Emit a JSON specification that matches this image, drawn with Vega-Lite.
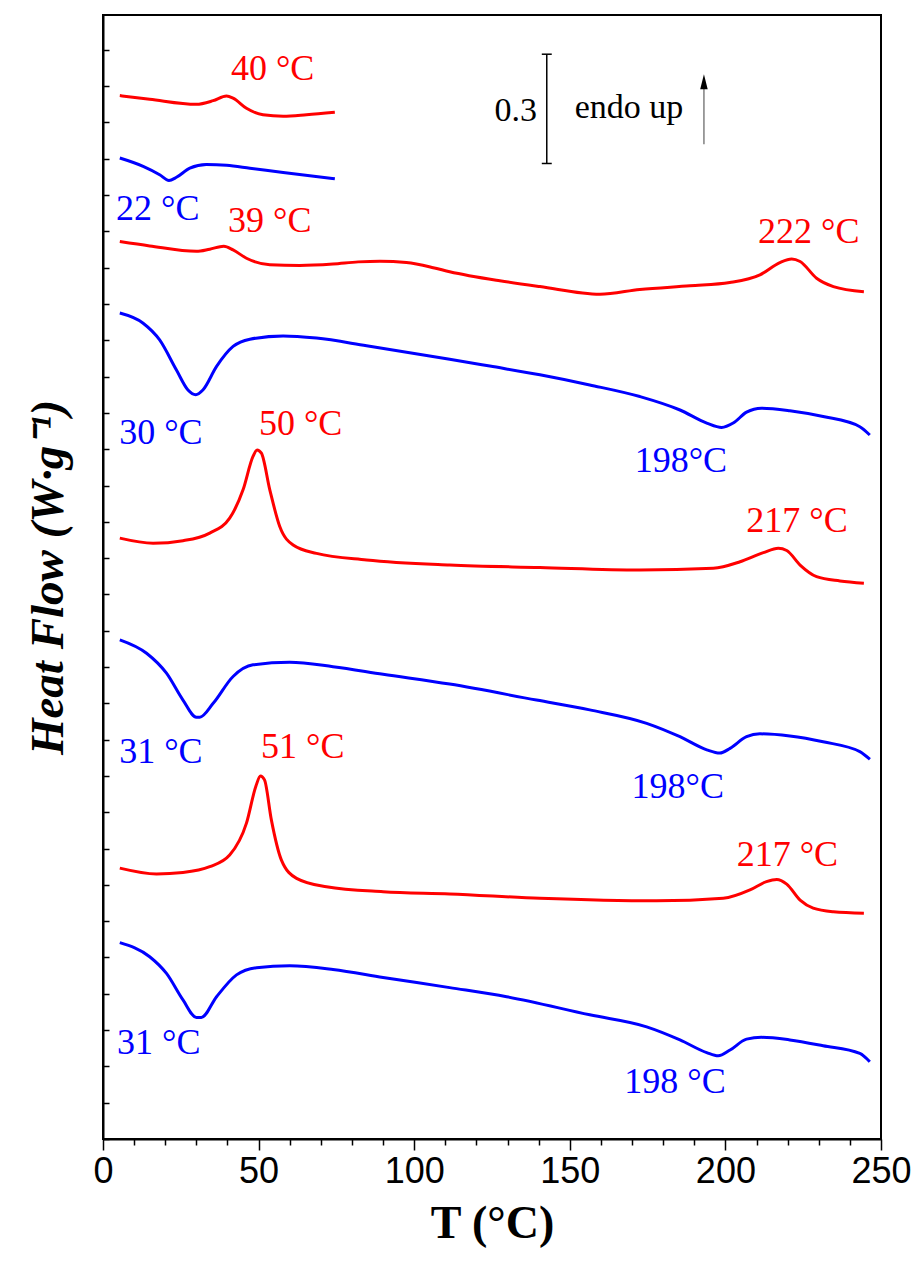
{
  "$schema": "https://vega.github.io/schema/vega-lite/v6.json",
  "width": 778,
  "height": 1124,
  "autosize": {"type": "none"},
  "padding": {"left": 103, "top": 15, "right": 36, "bottom": 124},
  "background": "white",
  "config": {
    "view": {"stroke": "black", "strokeWidth": 2},
    "axis": {"grid": false, "domainColor": "black", "tickColor": "black", "labelColor": "black", "titleColor": "black"}
  },
  "datasets": {
    "curves": [
      {"run": "a", "type": "heating", "T": 5.4, "HF": 2.874},
      {"run": "a", "type": "heating", "T": 15.0, "HF": 2.864},
      {"run": "a", "type": "heating", "T": 30.0, "HF": 2.850},
      {"run": "a", "type": "heating", "T": 35.4, "HF": 2.860},
      {"run": "a", "type": "heating", "T": 39.7, "HF": 2.873},
      {"run": "a", "type": "heating", "T": 41.8, "HF": 2.867},
      {"run": "a", "type": "heating", "T": 46.1, "HF": 2.839},
      {"run": "a", "type": "heating", "T": 51.4, "HF": 2.821},
      {"run": "a", "type": "heating", "T": 57.9, "HF": 2.817},
      {"run": "a", "type": "heating", "T": 65.4, "HF": 2.821},
      {"run": "a", "type": "heating", "T": 74.5, "HF": 2.828},

      {"run": "b", "type": "cooling", "T": 5.4, "HF": 2.702},
      {"run": "b", "type": "cooling", "T": 12.9, "HF": 2.679},
      {"run": "b", "type": "cooling", "T": 18.2, "HF": 2.656},
      {"run": "b", "type": "cooling", "T": 21.2, "HF": 2.640},
      {"run": "b", "type": "cooling", "T": 23.6, "HF": 2.649},
      {"run": "b", "type": "cooling", "T": 27.9, "HF": 2.674},
      {"run": "b", "type": "cooling", "T": 33.2, "HF": 2.684},
      {"run": "b", "type": "cooling", "T": 39.7, "HF": 2.682},
      {"run": "b", "type": "cooling", "T": 47.2, "HF": 2.674},
      {"run": "b", "type": "cooling", "T": 57.9, "HF": 2.662},
      {"run": "b", "type": "cooling", "T": 74.5, "HF": 2.645},

      {"run": "c", "type": "heating", "T": 5.4, "HF": 2.472},
      {"run": "c", "type": "heating", "T": 15.0, "HF": 2.460},
      {"run": "c", "type": "heating", "T": 30.0, "HF": 2.445},
      {"run": "c", "type": "heating", "T": 34.3, "HF": 2.451},
      {"run": "c", "type": "heating", "T": 38.8, "HF": 2.459},
      {"run": "c", "type": "heating", "T": 41.8, "HF": 2.449},
      {"run": "c", "type": "heating", "T": 46.1, "HF": 2.426},
      {"run": "c", "type": "heating", "T": 53.6, "HF": 2.408},
      {"run": "c", "type": "heating", "T": 63.2, "HF": 2.406},
      {"run": "c", "type": "heating", "T": 73.9, "HF": 2.410},
      {"run": "c", "type": "heating", "T": 82.0, "HF": 2.416},
      {"run": "c", "type": "heating", "T": 89.0, "HF": 2.418},
      {"run": "c", "type": "heating", "T": 97.5, "HF": 2.414},
      {"run": "c", "type": "heating", "T": 106.1, "HF": 2.400},
      {"run": "c", "type": "heating", "T": 111.4, "HF": 2.389},
      {"run": "c", "type": "heating", "T": 127.5, "HF": 2.364},
      {"run": "c", "type": "heating", "T": 140.4, "HF": 2.348},
      {"run": "c", "type": "heating", "T": 159.7, "HF": 2.327},
      {"run": "c", "type": "heating", "T": 172.5, "HF": 2.340},
      {"run": "c", "type": "heating", "T": 188.6, "HF": 2.350},
      {"run": "c", "type": "heating", "T": 201.4, "HF": 2.359},
      {"run": "c", "type": "heating", "T": 211.1, "HF": 2.380},
      {"run": "c", "type": "heating", "T": 217.5, "HF": 2.414},
      {"run": "c", "type": "heating", "T": 221.3, "HF": 2.424},
      {"run": "c", "type": "heating", "T": 224.0, "HF": 2.417},
      {"run": "c", "type": "heating", "T": 229.3, "HF": 2.371},
      {"run": "c", "type": "heating", "T": 234.7, "HF": 2.348},
      {"run": "c", "type": "heating", "T": 244.5, "HF": 2.334},

      {"run": "d", "type": "cooling", "T": 5.4, "HF": 2.275},
      {"run": "d", "type": "cooling", "T": 12.9, "HF": 2.247},
      {"run": "d", "type": "cooling", "T": 18.2, "HF": 2.201},
      {"run": "d", "type": "cooling", "T": 23.6, "HF": 2.118},
      {"run": "d", "type": "cooling", "T": 27.3, "HF": 2.063},
      {"run": "d", "type": "cooling", "T": 29.8, "HF": 2.050},
      {"run": "d", "type": "cooling", "T": 32.1, "HF": 2.063},
      {"run": "d", "type": "cooling", "T": 36.5, "HF": 2.128},
      {"run": "d", "type": "cooling", "T": 41.8, "HF": 2.183},
      {"run": "d", "type": "cooling", "T": 47.2, "HF": 2.203},
      {"run": "d", "type": "cooling", "T": 57.9, "HF": 2.212},
      {"run": "d", "type": "cooling", "T": 68.6, "HF": 2.206},
      {"run": "d", "type": "cooling", "T": 84.7, "HF": 2.185},
      {"run": "d", "type": "cooling", "T": 111.4, "HF": 2.148},
      {"run": "d", "type": "cooling", "T": 124.3, "HF": 2.129},
      {"run": "d", "type": "cooling", "T": 140.4, "HF": 2.105},
      {"run": "d", "type": "cooling", "T": 156.4, "HF": 2.077},
      {"run": "d", "type": "cooling", "T": 172.5, "HF": 2.045},
      {"run": "d", "type": "cooling", "T": 185.4, "HF": 2.008},
      {"run": "d", "type": "cooling", "T": 194.0, "HF": 1.972},
      {"run": "d", "type": "cooling", "T": 198.8, "HF": 1.960},
      {"run": "d", "type": "cooling", "T": 202.5, "HF": 1.972},
      {"run": "d", "type": "cooling", "T": 206.8, "HF": 2.002},
      {"run": "d", "type": "cooling", "T": 211.6, "HF": 2.013},
      {"run": "d", "type": "cooling", "T": 220.7, "HF": 2.006},
      {"run": "d", "type": "cooling", "T": 231.4, "HF": 1.990},
      {"run": "d", "type": "cooling", "T": 243.2, "HF": 1.962},
      {"run": "d", "type": "cooling", "T": 246.4, "HF": 1.939},

      {"run": "e", "type": "heating", "T": 5.4, "HF": 1.655},
      {"run": "e", "type": "heating", "T": 16.1, "HF": 1.641},
      {"run": "e", "type": "heating", "T": 25.7, "HF": 1.648},
      {"run": "e", "type": "heating", "T": 34.3, "HF": 1.669},
      {"run": "e", "type": "heating", "T": 40.7, "HF": 1.710},
      {"run": "e", "type": "heating", "T": 45.0, "HF": 1.788},
      {"run": "e", "type": "heating", "T": 48.2, "HF": 1.880},
      {"run": "e", "type": "heating", "T": 49.5, "HF": 1.898},
      {"run": "e", "type": "heating", "T": 50.9, "HF": 1.889},
      {"run": "e", "type": "heating", "T": 53.6, "HF": 1.788},
      {"run": "e", "type": "heating", "T": 56.8, "HF": 1.687},
      {"run": "e", "type": "heating", "T": 61.1, "HF": 1.636},
      {"run": "e", "type": "heating", "T": 68.6, "HF": 1.613},
      {"run": "e", "type": "heating", "T": 84.7, "HF": 1.595},
      {"run": "e", "type": "heating", "T": 111.4, "HF": 1.581},
      {"run": "e", "type": "heating", "T": 140.4, "HF": 1.574},
      {"run": "e", "type": "heating", "T": 172.5, "HF": 1.567},
      {"run": "e", "type": "heating", "T": 196.1, "HF": 1.572},
      {"run": "e", "type": "heating", "T": 204.7, "HF": 1.590},
      {"run": "e", "type": "heating", "T": 212.2, "HF": 1.615},
      {"run": "e", "type": "heating", "T": 217.0, "HF": 1.627},
      {"run": "e", "type": "heating", "T": 219.7, "HF": 1.621},
      {"run": "e", "type": "heating", "T": 224.0, "HF": 1.581},
      {"run": "e", "type": "heating", "T": 229.3, "HF": 1.549},
      {"run": "e", "type": "heating", "T": 236.8, "HF": 1.537},
      {"run": "e", "type": "heating", "T": 244.5, "HF": 1.531},

      {"run": "f", "type": "cooling", "T": 5.4, "HF": 1.375},
      {"run": "f", "type": "cooling", "T": 14.0, "HF": 1.338},
      {"run": "f", "type": "cooling", "T": 20.4, "HF": 1.283},
      {"run": "f", "type": "cooling", "T": 25.7, "HF": 1.209},
      {"run": "f", "type": "cooling", "T": 30.0, "HF": 1.162},
      {"run": "f", "type": "cooling", "T": 31.1, "HF": 1.162},
      {"run": "f", "type": "cooling", "T": 35.4, "HF": 1.200},
      {"run": "f", "type": "cooling", "T": 41.8, "HF": 1.274},
      {"run": "f", "type": "cooling", "T": 48.2, "HF": 1.306},
      {"run": "f", "type": "cooling", "T": 60.0, "HF": 1.313},
      {"run": "f", "type": "cooling", "T": 73.9, "HF": 1.301},
      {"run": "f", "type": "cooling", "T": 90.0, "HF": 1.280},
      {"run": "f", "type": "cooling", "T": 111.4, "HF": 1.253},
      {"run": "f", "type": "cooling", "T": 139.3, "HF": 1.209},
      {"run": "f", "type": "cooling", "T": 156.4, "HF": 1.182},
      {"run": "f", "type": "cooling", "T": 174.7, "HF": 1.145},
      {"run": "f", "type": "cooling", "T": 185.4, "HF": 1.108},
      {"run": "f", "type": "cooling", "T": 194.0, "HF": 1.072},
      {"run": "f", "type": "cooling", "T": 198.2, "HF": 1.063},
      {"run": "f", "type": "cooling", "T": 201.5, "HF": 1.076},
      {"run": "f", "type": "cooling", "T": 206.8, "HF": 1.108},
      {"run": "f", "type": "cooling", "T": 211.1, "HF": 1.116},
      {"run": "f", "type": "cooling", "T": 220.7, "HF": 1.110},
      {"run": "f", "type": "cooling", "T": 231.4, "HF": 1.094},
      {"run": "f", "type": "cooling", "T": 243.2, "HF": 1.067},
      {"run": "f", "type": "cooling", "T": 246.4, "HF": 1.046},

      {"run": "g", "type": "heating", "T": 5.4, "HF": 0.746},
      {"run": "g", "type": "heating", "T": 17.2, "HF": 0.730},
      {"run": "g", "type": "heating", "T": 25.7, "HF": 0.734},
      {"run": "g", "type": "heating", "T": 34.3, "HF": 0.750},
      {"run": "g", "type": "heating", "T": 40.7, "HF": 0.782},
      {"run": "g", "type": "heating", "T": 46.1, "HF": 0.870},
      {"run": "g", "type": "heating", "T": 49.1, "HF": 0.971},
      {"run": "g", "type": "heating", "T": 50.6, "HF": 1.000},
      {"run": "g", "type": "heating", "T": 51.9, "HF": 0.989},
      {"run": "g", "type": "heating", "T": 54.1, "HF": 0.879},
      {"run": "g", "type": "heating", "T": 57.3, "HF": 0.769},
      {"run": "g", "type": "heating", "T": 62.2, "HF": 0.718},
      {"run": "g", "type": "heating", "T": 71.8, "HF": 0.695},
      {"run": "g", "type": "heating", "T": 90.0, "HF": 0.681},
      {"run": "g", "type": "heating", "T": 111.4, "HF": 0.675},
      {"run": "g", "type": "heating", "T": 140.4, "HF": 0.663},
      {"run": "g", "type": "heating", "T": 177.9, "HF": 0.656},
      {"run": "g", "type": "heating", "T": 199.3, "HF": 0.663},
      {"run": "g", "type": "heating", "T": 207.9, "HF": 0.686},
      {"run": "g", "type": "heating", "T": 213.2, "HF": 0.709},
      {"run": "g", "type": "heating", "T": 216.5, "HF": 0.715},
      {"run": "g", "type": "heating", "T": 219.7, "HF": 0.702},
      {"run": "g", "type": "heating", "T": 224.0, "HF": 0.658},
      {"run": "g", "type": "heating", "T": 228.2, "HF": 0.636},
      {"run": "g", "type": "heating", "T": 234.7, "HF": 0.626},
      {"run": "g", "type": "heating", "T": 244.5, "HF": 0.622},

      {"run": "h", "type": "cooling", "T": 5.4, "HF": 0.541},
      {"run": "h", "type": "cooling", "T": 15.0, "HF": 0.502},
      {"run": "h", "type": "cooling", "T": 20.4, "HF": 0.456},
      {"run": "h", "type": "cooling", "T": 25.7, "HF": 0.383},
      {"run": "h", "type": "cooling", "T": 30.0, "HF": 0.335},
      {"run": "h", "type": "cooling", "T": 31.6, "HF": 0.335},
      {"run": "h", "type": "cooling", "T": 36.5, "HF": 0.392},
      {"run": "h", "type": "cooling", "T": 42.9, "HF": 0.452},
      {"run": "h", "type": "cooling", "T": 49.3, "HF": 0.472},
      {"run": "h", "type": "cooling", "T": 60.0, "HF": 0.477},
      {"run": "h", "type": "cooling", "T": 73.9, "HF": 0.467},
      {"run": "h", "type": "cooling", "T": 90.0, "HF": 0.445},
      {"run": "h", "type": "cooling", "T": 111.4, "HF": 0.417},
      {"run": "h", "type": "cooling", "T": 129.7, "HF": 0.392},
      {"run": "h", "type": "cooling", "T": 156.4, "HF": 0.342},
      {"run": "h", "type": "cooling", "T": 174.7, "HF": 0.309},
      {"run": "h", "type": "cooling", "T": 185.4, "HF": 0.273},
      {"run": "h", "type": "cooling", "T": 194.0, "HF": 0.238},
      {"run": "h", "type": "cooling", "T": 197.7, "HF": 0.229},
      {"run": "h", "type": "cooling", "T": 201.5, "HF": 0.245},
      {"run": "h", "type": "cooling", "T": 206.8, "HF": 0.275},
      {"run": "h", "type": "cooling", "T": 211.6, "HF": 0.280},
      {"run": "h", "type": "cooling", "T": 220.7, "HF": 0.273},
      {"run": "h", "type": "cooling", "T": 231.4, "HF": 0.257},
      {"run": "h", "type": "cooling", "T": 243.2, "HF": 0.236},
      {"run": "h", "type": "cooling", "T": 246.4, "HF": 0.213}
    ],
    "labels": [
      {"label": "40 °C", "type": "heating", "T": 54.5, "HF": 2.917},
      {"label": "22 °C", "type": "cooling", "T": 17.6, "HF": 2.532},
      {"label": "39 °C", "type": "heating", "T": 53.6, "HF": 2.499},
      {"label": "222 °C", "type": "heating", "T": 226.8, "HF": 2.469},
      {"label": "30 °C", "type": "cooling", "T": 18.6, "HF": 1.915},
      {"label": "50 °C", "type": "heating", "T": 63.5, "HF": 1.939},
      {"label": "198°C", "type": "cooling", "T": 185.7, "HF": 1.838},
      {"label": "217 °C", "type": "heating", "T": 223.0, "HF": 1.673},
      {"label": "31 °C", "type": "cooling", "T": 18.6, "HF": 1.037},
      {"label": "51 °C", "type": "heating", "T": 64.2, "HF": 1.049},
      {"label": "198°C", "type": "cooling", "T": 184.7, "HF": 0.940},
      {"label": "217 °C", "type": "heating", "T": 219.9, "HF": 0.753},
      {"label": "31 °C", "type": "cooling", "T": 17.9, "HF": 0.233},
      {"label": "198 °C", "type": "cooling", "T": 183.8, "HF": 0.127}
    ]
  },
  "encoding": {
    "x": {
      "field": "T", "type": "quantitative",
      "scale": {"domain": [0, 250], "nice": false, "zero": false},
      "axis": {
        "title": "T (°C)",
        "values": [0, 10, 20, 30, 40, 50, 60, 70, 80, 90, 100, 110, 120, 130, 140, 150, 160, 170, 180, 190, 200, 210, 220, 230, 240, 250],
        "labelExpr": "datum.value % 50 === 0 ? datum.label : ''",
        "labelFlush": false,
        "labelOverlap": false,
        "labelFont": "Liberation Sans",
        "labelFontSize": 36,
        "labelPadding": 4,
        "tickSize": {"condition": {"test": "datum.value % 50 === 0", "value": 11}, "value": 6},
        "tickWidth": 1.5,
        "domainWidth": 2,
        "titleFont": "Liberation Serif",
        "titleFontWeight": "bold",
        "titleFontSize": 46,
        "titlePadding": 12
      }
    },
    "y": {
      "field": "HF", "type": "quantitative",
      "scale": {"domain": [0, 3.096], "nice": false, "zero": false},
      "axis": {
        "title": "Heat Flow (W·g⁻¹)",
        "values": [0, 0.1, 0.2, 0.3, 0.4, 0.5, 0.6, 0.7, 0.8, 0.9, 1.0, 1.1, 1.2, 1.3, 1.4, 1.5, 1.6, 1.7, 1.8, 1.9, 2.0, 2.1, 2.2, 2.3, 2.4, 2.5, 2.6, 2.7, 2.8, 2.9, 3.0],
        "labels": false,
        "tickSize": -6,
        "tickWidth": 1.5,
        "domainWidth": 2,
        "titleFont": "Liberation Serif",
        "titleFontWeight": "bold",
        "titleFontStyle": "italic",
        "titleFontSize": 47,
        "titlePadding": 30
      }
    }
  },
  "layer": [
    {
      "data": {"name": "curves"},
      "mark": {"type": "line", "strokeWidth": 3, "interpolate": "monotone"},
      "encoding": {
        "color": {"field": "type", "type": "nominal", "scale": {"domain": ["heating", "cooling"], "range": ["#ff0000", "#0000ff"]}, "legend": null},
        "detail": {"field": "run"},
        "order": {"field": "T", "type": "quantitative"}
      }
    },
    {
      "data": {"name": "labels"},
      "mark": {"type": "text", "font": "Liberation Serif", "fontSize": 36, "align": "center", "baseline": "alphabetic"},
      "encoding": {
        "text": {"field": "label"},
        "color": {"field": "type", "type": "nominal", "scale": {"domain": ["heating", "cooling"], "range": ["#ff0000", "#0000ff"]}, "legend": null}
      }
    },
    {
      "data": {"values": [{"T": 142.6, "HF": 2.687, "HF2": 2.988}]},
      "mark": {"type": "rule", "color": "black", "strokeWidth": 1.5},
      "encoding": {"y2": {"field": "HF2"}}
    },
    {
      "data": {"values": [{"T": 141.0, "T2": 144.2, "HF": 2.687}, {"T": 141.0, "T2": 144.2, "HF": 2.988}]},
      "mark": {"type": "rule", "color": "black", "strokeWidth": 1.5},
      "encoding": {"x2": {"field": "T2"}}
    },
    {
      "data": {"values": [{"T": 139.5, "HF": 2.803, "label": "0.3"}]},
      "mark": {"type": "text", "font": "Liberation Serif", "fontSize": 34, "align": "right", "baseline": "alphabetic", "color": "black"},
      "encoding": {"text": {"field": "label"}}
    },
    {
      "data": {"values": [{"T": 151.6, "HF": 2.812, "label": "endo up"}]},
      "mark": {"type": "text", "font": "Liberation Serif", "fontSize": 34, "align": "left", "baseline": "alphabetic", "color": "black"},
      "encoding": {"text": {"field": "label"}}
    },
    {
      "data": {"values": [{"T": 193.1, "HF": 2.740, "HF2": 2.905}]},
      "mark": {"type": "rule", "color": "#808080", "strokeWidth": 1.5},
      "encoding": {"y2": {"field": "HF2"}}
    },
    {
      "data": {"values": [{"T": 193.1, "HF": 2.912}]},
      "mark": {"type": "point", "shape": "M0,-1L0.5,1L-0.5,1Z", "size": 225, "filled": true, "color": "black", "opacity": 1, "strokeWidth": 0}
    }
  ]
}
